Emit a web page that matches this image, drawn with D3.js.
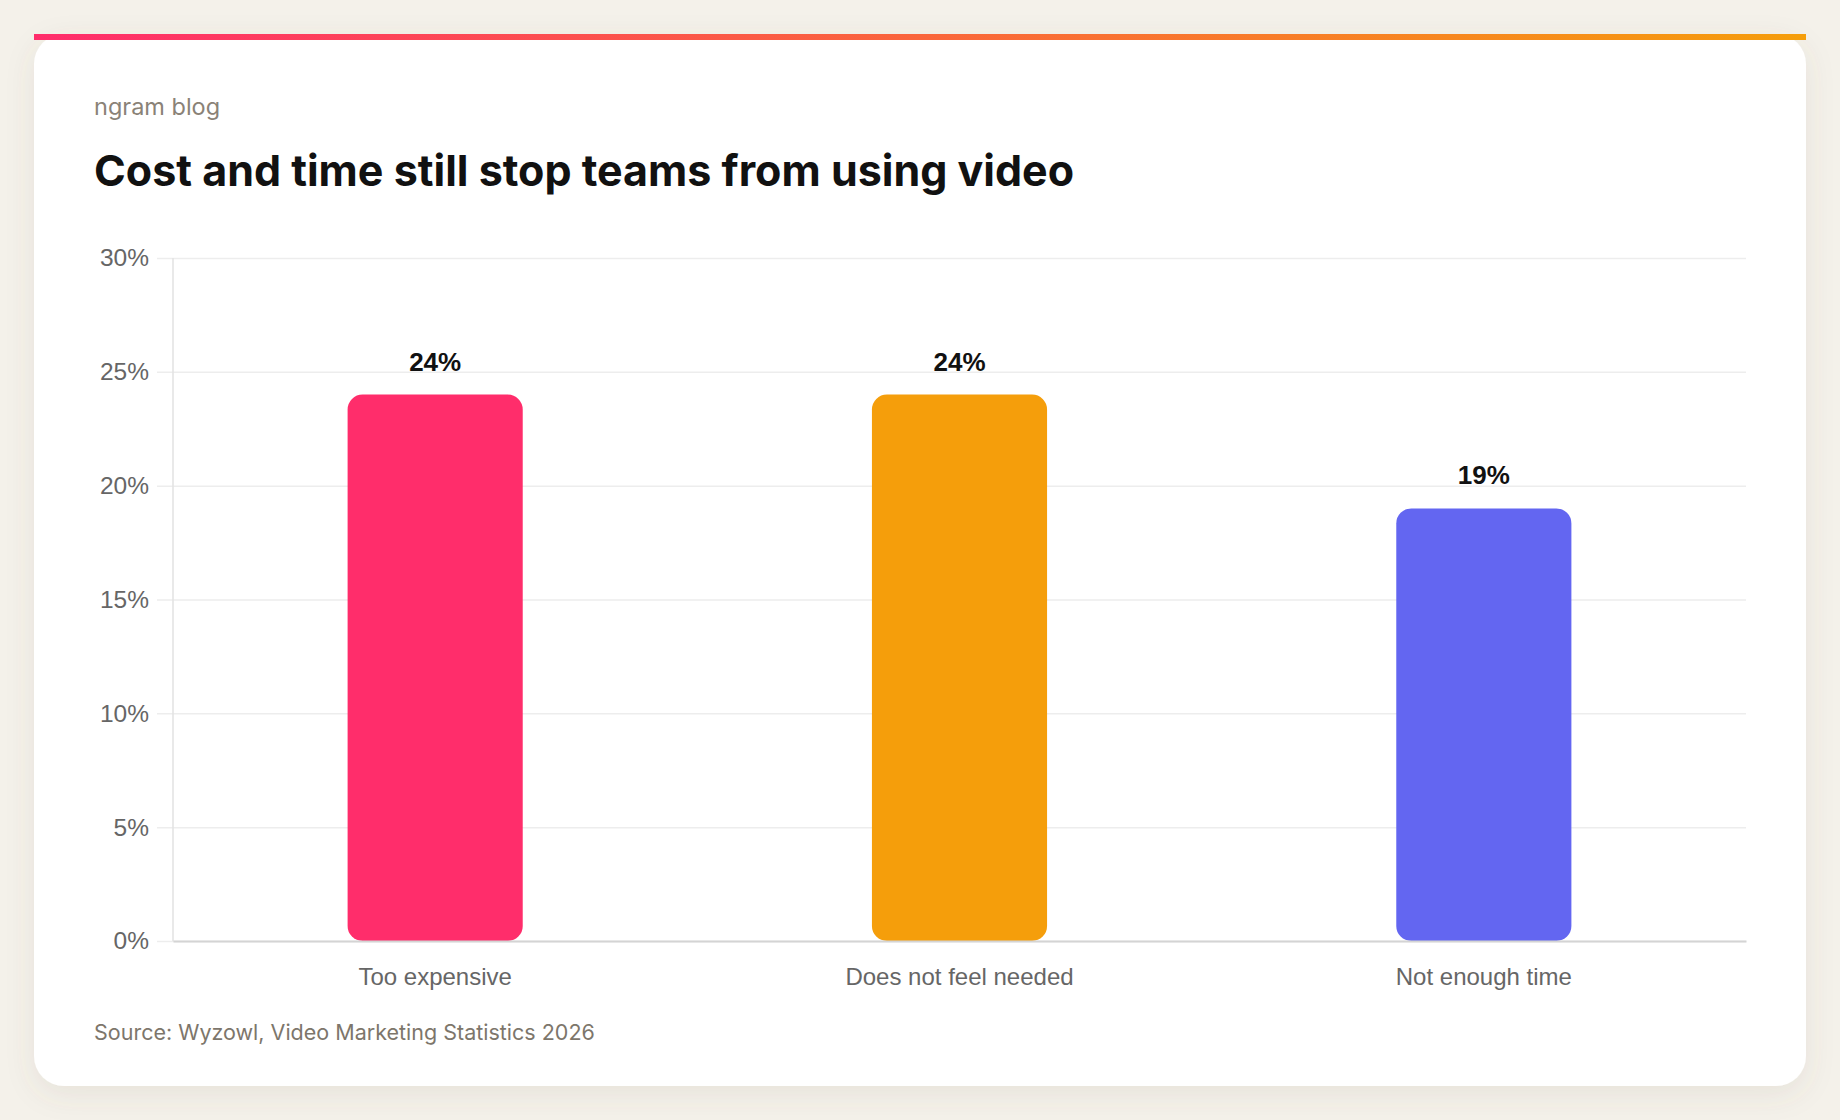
<!DOCTYPE html>
<html>
<head>
<meta charset="utf-8">
<script src="https://cdn.jsdelivr.net/npm/d3@7"></script>
<style>
  html, body { margin: 0; padding: 0; background: #f4f1ea; }
  svg { display: block; }
</style>
</head>
<body>
<svg id="chart" width="1840" height="1120"></svg>
<script>
// ---- data ----
const categories = ["Too expensive", "Does not feel needed", "Not enough time"];
const values = [24, 24, 19];
const barColors = ["#ff2d6b", "#f59e0b", "#6366f1"];
const yTicks = [0, 5, 10, 15, 20, 25, 30];
const kicker = "ngram blog";
const title = "Cost and time still stop teams from using video";
const source = "Source: Wyzowl, Video Marketing Statistics 2026";

// ---- layout ----
const W = 1840, H = 1120;
const card = { x: 34, y: 34, w: 1772, h: 1052, r: 30 };
const plot = { left: 173, right: 1746, top: 258, bottom: 941, gridLeft: 157 };

const svg = d3.select("#chart");
const defs = svg.append("defs");
const grad = defs.append("linearGradient").attr("id", "topbar").attr("x1", "0").attr("x2", "1").attr("y1", "0").attr("y2", "0");
grad.append("stop").attr("offset", "0%").attr("stop-color", "#ff2d6b");
grad.append("stop").attr("offset", "100%").attr("stop-color", "#f59e0b");
const f = defs.append("filter").attr("id", "shadow").attr("x", "-10%").attr("y", "-10%").attr("width", "120%").attr("height", "120%");
f.append("feDropShadow").attr("dx", 0).attr("dy", 8).attr("stdDeviation", 14)
  .attr("flood-color", "#6b5d45").attr("flood-opacity", 0.10);

svg.append("rect").attr("width", W).attr("height", H).attr("fill", "#f4f1ea");
svg.append("rect").attr("x", card.x).attr("y", card.y).attr("width", card.w).attr("height", card.h)
  .attr("rx", card.r).attr("fill", "#ffffff").attr("filter", "url(#shadow)");
svg.append("rect").attr("x", card.x).attr("y", card.y).attr("width", card.w).attr("height", 6)
  .attr("fill", "url(#topbar)");

svg.append("text").attr("x", 94).attr("y", 115).text(kicker)
  .attr("font-family", "Inter, sans-serif").attr("font-size", 23.5).attr("fill", "#8a8277");
svg.append("text").attr("x", 94).attr("y", 186).text(title)
  .attr("font-family", "Inter, sans-serif").attr("font-weight", 700).attr("font-size", 43)
  .attr("fill", "#111111");

// ---- scales ----
const y = d3.scaleLinear().domain([0, 30]).range([plot.bottom, plot.top]);
const x = d3.scaleBand().domain(categories).range([plot.left, plot.right])
  .paddingInner(0.666).paddingOuter(0.333);

// grid + y axis labels
const yAxis = d3.axisLeft(y).tickValues(yTicks).tickFormat(d => d + "%")
  .tickSize(-(plot.right - plot.gridLeft)).tickPadding(8);
const gy = svg.append("g").attr("transform", `translate(${plot.gridLeft},0)`).call(yAxis);
gy.select(".domain").remove();
gy.selectAll(".tick line").attr("stroke", "#ededed").attr("stroke-width", 1.5);
gy.selectAll(".tick text").attr("font-family", "'Liberation Sans', Arial, sans-serif")
  .attr("font-size", 24.5).attr("fill", "#666666");

// y axis line
svg.append("line").attr("x1", plot.left).attr("x2", plot.left).attr("y1", plot.top).attr("y2", plot.bottom)
  .attr("stroke", "#e2e2e2").attr("stroke-width", 1.5);

// bars
svg.append("g").selectAll("rect").data(categories).join("rect")
  .attr("x", d => x(d)).attr("width", x.bandwidth())
  .attr("y", (d, i) => y(values[i])).attr("height", (d, i) => y(0) - y(values[i]))
  .attr("rx", 15).attr("fill", (d, i) => barColors[i]);

// x axis
const xAxis = d3.axisBottom(x).tickSize(0).tickPadding(27);
const gx = svg.append("g").attr("transform", `translate(0,${plot.bottom})`).call(xAxis);
gx.select(".domain").attr("stroke", "#d4d4d4").attr("stroke-width", 2);
gx.selectAll(".tick text").attr("font-family", "'Liberation Sans', Arial, sans-serif")
  .attr("font-size", 24).attr("fill", "#666666");

// value labels
svg.append("g").selectAll("text").data(categories).join("text")
  .attr("x", d => x(d) + x.bandwidth() / 2).attr("y", (d, i) => y(values[i]) - 24)
  .attr("text-anchor", "middle").text((d, i) => values[i] + "%")
  .attr("font-family", "'Liberation Sans', Arial, sans-serif").attr("font-weight", 700)
  .attr("font-size", 26).attr("fill", "#111111");

svg.append("text").attr("x", 94).attr("y", 1040).text(source)
  .attr("font-family", "Inter, sans-serif").attr("font-size", 21.5).attr("fill", "#7d766b");
</script>
</body>
</html>
